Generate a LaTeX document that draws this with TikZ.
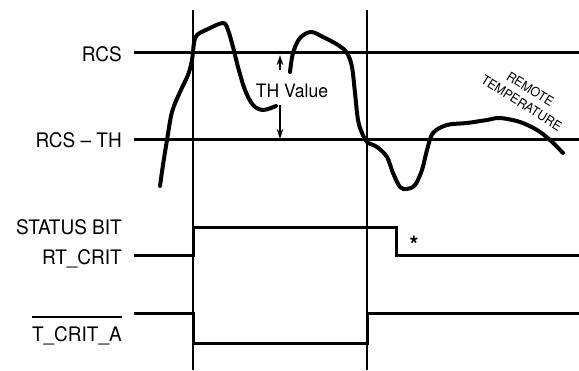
\documentclass[tikz,border=0pt]{standalone}
\usepackage{fontspec}
\setmainfont{TeX Gyre Heros}[FakeStretch=0.95]
\usetikzlibrary{arrows.meta}

\begin{document}
\begin{tikzpicture}[
    x=1pt,y=1pt,
    every node/.style={font=\fontsize{20}{24}\selectfont,inner sep=0pt},
    lbl/.style={anchor=base east},
    level/.style={line width=3pt},
    sig/.style={line width=3pt,line join=miter},
    temp/.style={line width=4pt,line cap=round,line join=round},
    guide/.style={line width=1.6pt},
    dim/.style={-{Stealth[length=10pt,width=6.5pt]},line width=1.4pt},
    bar/.style={line width=1.4pt},
  ]
    \useasboundingbox (0,0) rectangle (579,370);
    % edges of the critical window
    \coordinate (tA) at (193,0);
    \coordinate (tB) at (367,0);
    \coordinate (tC) at (396,0);
    \draw[guide] (tA) -- ++(0,360);
    \draw[guide] (tB) -- ++(0,360);
    % thresholds
    \node[lbl] (rcs)   at (122,308) {RCS};
    \node[lbl] (rcsth) at (122,222) {RCS -- TH};
    \draw[level] (134,317) -- (579,317);
    \draw[level] (134,230) -- (579,230);
    % remote temperature
    \draw[temp] plot[smooth,tension=0.55] coordinates {
        (160,184) (163,205) (167,230) (172,258) (180,278) (188,295)
        (192,310) (194,327) (197,335) (208,341) (223,347) (228,340)
        (233,323) (238,303) (245,280) (253,265) (263,260) (276,264)};
    \draw[temp] plot[smooth,tension=0.55] coordinates {
        (290,298) (293,317) (300,332) (311,338) (323,333) (338,325)
        (347,317) (352,303) (355,277) (358,250) (362,237) (367,228)
        (377,223) (387,213) (393,197) (400,183) (407,181) (415,185)
        (422,200) (427,220) (433,237) (447,245) (467,247) (487,250)
        (500,252) (520,248) (537,240) (550,230) (563,217)};
    \node[rotate=-32,align=center,font=\fontsize{13}{16.5}\selectfont] (remote)
        at (526,274) {REMOTE\\TEMPERATURE};
    % hysteresis
    \node[anchor=base,font=\fontsize{18.5}{22}\selectfont] (thval) at (292,272) {TH Value};
    \draw[dim] (280,300) -- (280,315);
    \draw[dim] (280,265) -- (280,231);
    % status bit
    \node[lbl] (stat)  at (122,135) {STATUS BIT};
    \node[lbl] (rtc)   at (122,105) {RT\_CRIT};
    \draw[sig] (134,114) -- (tA |- 0,114) -- (tA |- 0,142) -- (tC |- 0,142)
        -- (tC |- 0,114) -- (579,114);
    \node[anchor=base,font=\fontsize{24}{24}\selectfont\bfseries] (star) at (414,116) {*};
    % alert output
    \node[lbl] (tcrit) at (122,28) {T\_CRIT\_A};
    \draw[bar] ([yshift=10pt]tcrit.north west) -- ([yshift=10pt]tcrit.north east);
    \draw[sig] (134,56) -- (tA |- 0,56) -- (tA |- 0,27) -- (tB |- 0,27)
        -- (tB |- 0,56) -- (579,56);
\end{tikzpicture}
\end{document}
